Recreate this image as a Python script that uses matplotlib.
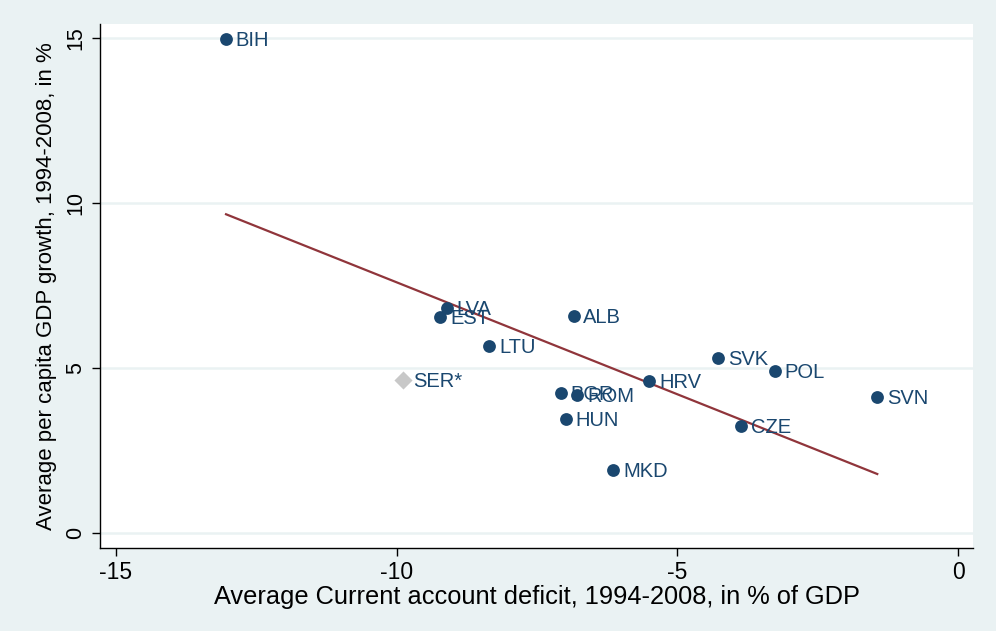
import matplotlib
matplotlib.use("Agg")
import matplotlib.pyplot as plt
import numpy as np

plt.rcParams["font.family"] = ["Liberation Sans", "DejaVu Sans"]

# country, avg current account deficit (% GDP), avg per capita GDP growth (%)
countries = ["BIH", "LVA", "EST", "LTU", "ALB", "BGR", "ROM", "HUN",
             "HRV", "MKD", "SVK", "POL", "CZE", "SVN"]
ca_deficit = [-13.04, -9.11, -9.22, -8.35, -6.85, -7.08, -6.78, -6.99,
              -5.50, -6.14, -4.27, -3.26, -3.86, -1.44]
gdp_growth = [14.97, 6.82, 6.55, 5.67, 6.58, 4.24, 4.18, 3.45,
              4.61, 1.91, 5.30, 4.91, 3.24, 4.12]

# Serbia gets its own marker
ser_label = "SER*"
ser_x = -9.88
ser_y = 4.64

BG = "#eaf2f3"
NAVY = "#1a476f"
MAROON = "#90353b"

fig = plt.figure(figsize=(9.96, 6.31), dpi=100, facecolor=BG)
ax = fig.add_axes([0.1004, 0.1315, 0.8766, 0.8305])
ax.set_facecolor("white")

x = np.array(ca_deficit)
y = np.array(gdp_growth)

# linear fit over all countries incl. Serbia
fit_x = np.append(x, ser_x)
fit_y = np.append(y, ser_y)
slope, intercept = np.polyfit(fit_x, fit_y, 1)
xs = np.array([fit_x.min(), fit_x.max()])
ax.plot(xs, intercept + slope * xs, color=MAROON, linewidth=1.6, zorder=2)

ax.scatter(x, y, s=85, color=NAVY, zorder=3, linewidths=0)
ax.scatter([ser_x], [ser_y], s=85, marker="D", color="#c8c8c8", zorder=3, linewidths=0)

for name, xi, yi in zip(countries, ca_deficit, gdp_growth):
    ax.annotate(name, (xi, yi), xytext=(7, -1), textcoords="offset points",
                va="center", ha="left", fontsize=14.5, color=NAVY, zorder=4)
ax.annotate(ser_label, (ser_x, ser_y), xytext=(7, -1), textcoords="offset points",
            va="center", ha="left", fontsize=14.5, color=NAVY, zorder=4)

ax.set_xlim(-15.285, 0.267)
ax.set_ylim(-0.455, 15.42)
ax.set_xticks([-15, -10, -5, 0])
ax.set_yticks([0, 5, 10, 15])
ax.set_xticklabels(["-15", "-10", "-5", "0"])
ax.set_yticklabels(["0", "5", "10", "15"], rotation=90, va="center")
ax.yaxis.grid(True, color=BG, linewidth=1.8)
ax.set_axisbelow(True)

for side in ("top", "right"):
    ax.spines[side].set_visible(False)
for side in ("left", "bottom"):
    ax.spines[side].set_color("black")
    ax.spines[side].set_linewidth(1.0)

ax.tick_params(axis="both", direction="out", length=6, width=1, colors="black")
ax.tick_params(axis="x", labelsize=16.5, pad=3)
ax.tick_params(axis="y", labelsize=15.5, pad=4)

ax.set_xlabel("Average Current account deficit, 1994-2008, in % of GDP",
              fontsize=18.3, labelpad=1)
ax.set_ylabel("Average per capita GDP growth, 1994-2008, in %",
              fontsize=16, labelpad=6)

fig.savefig("out.png", dpi=100, facecolor=BG)
